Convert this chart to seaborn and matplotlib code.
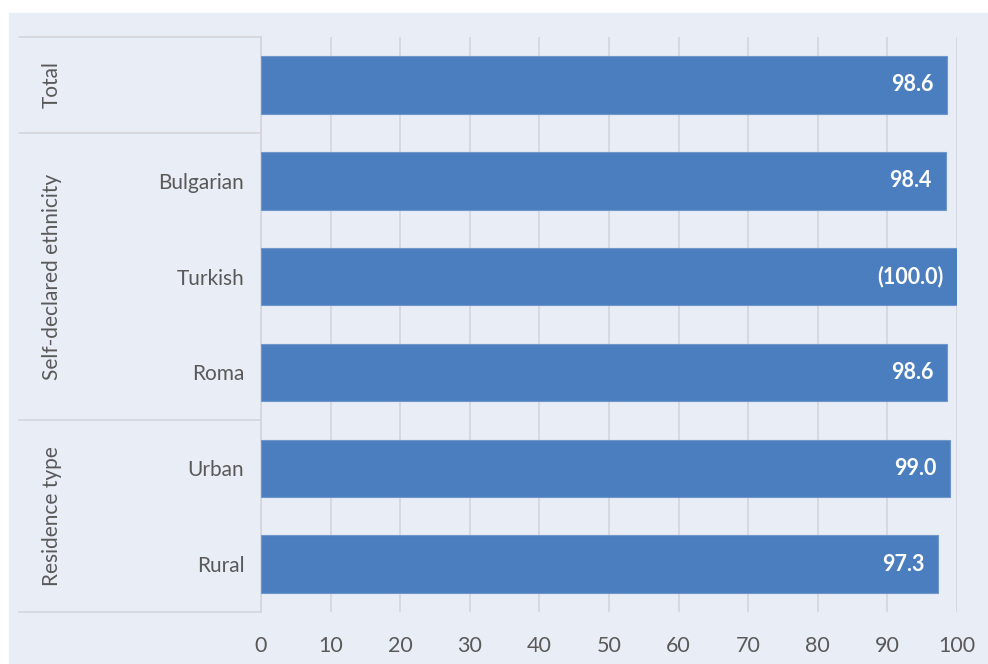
import matplotlib
matplotlib.use("Agg")
import matplotlib.pyplot as plt
import matplotlib.patches as mpatches
import matplotlib.transforms as mtransforms
import seaborn as sns
import pandas as pd

categories = ["Total", "Bulgarian", "Turkish", "Roma", "Urban", "Rural"]
values = [98.6, 98.4, 100.0, 98.6, 99.0, 97.3]
value_labels = ["98.6", "98.4", "(100.0)", "98.6", "99.0", "97.3"]
groups = ["Total", "Self-declared ethnicity", "Residence type"]
group_spans = [(0, 0), (1, 3), (4, 5)]  # first/last category index per group
tick_values = [0, 10, 20, 30, 40, 50, 60, 70, 80, 90, 100]

BG = "#E9EDF6"
BAR = "#4A7EBF"
TXT = "#595959"
GRID = "#D3D5DB"

sns.set_theme(style="white")
plt.rcParams["font.family"] = ["Lato", "DejaVu Sans"]

W, H = 988, 664
fig = plt.figure(figsize=(W / 100, H / 100), dpi=100, facecolor="white")
bgrect = mpatches.Rectangle((9 / W, 0), 1 - 9 / W, 1 - 13 / H,
                            transform=fig.transFigure, color=BG, zorder=-10)
fig.patches.append(bgrect)

left, right, top, bottom = 261, 957, 37, 612
ax = fig.add_axes([left / W, 1 - bottom / H, (right - left) / W, (bottom - top) / H])
ax.patch.set_visible(False)

df = pd.DataFrame({"category": categories, "value": values})
sns.barplot(data=df, y="category", x="value", orient="h", color=BAR,
            saturation=1, width=0.6, ax=ax, zorder=3, linewidth=0.8,
            edgecolor="#6F97CC")

ax.set_xlim(0, 100)
ax.set_ylim(len(categories) - 0.5, -0.5)
ax.set_xticks(tick_values)
ax.set_xticklabels([str(t) for t in tick_values])
ax.grid(axis="x", color=GRID, linewidth=1.2, zorder=0)
ax.set_axisbelow(True)
for s in ["top", "right", "bottom"]:
    ax.spines[s].set_visible(False)
ax.spines["left"].set_color(GRID)
ax.spines["left"].set_linewidth(1.2)
ax.set_xlabel("")
ax.set_ylabel("")
ax.tick_params(axis="x", length=0, pad=17, labelsize=15.5, labelcolor=TXT)
ax.tick_params(axis="y", length=0, pad=12, labelsize=15, labelcolor=TXT)
ax.set_yticks(range(len(categories)))
ax.set_yticklabels(["", "Bulgarian", "Turkish", "Roma", "Urban", "Rural"])

# value labels
for i, (v, lab) in enumerate(zip(values, value_labels)):
    ax.annotate(lab, xy=(v, i), xytext=(-10, 0), textcoords="offset points",
                ha="right", va="center", color="white", fontsize=15.5,
                fontweight="bold", zorder=5)

# group separators and labels
trans = mtransforms.blended_transform_factory(ax.transAxes, ax.transData)
x0 = (19 - left) / (right - left)
seps = sorted({-0.5} | {b + 0.5 for _, b in group_spans})
for y in seps:
    ax.plot([x0, 0], [y, y], transform=trans, color=GRID, lw=1.2, clip_on=False, zorder=2)
xg = (52 - left) / (right - left)
for g, (a, b) in zip(groups, group_spans):
    ax.text(xg, (a + b) / 2, g, transform=trans, rotation=90, ha="center",
            va="center", fontsize=15, color=TXT)

fig.savefig("out.png", dpi=100, facecolor="white")
